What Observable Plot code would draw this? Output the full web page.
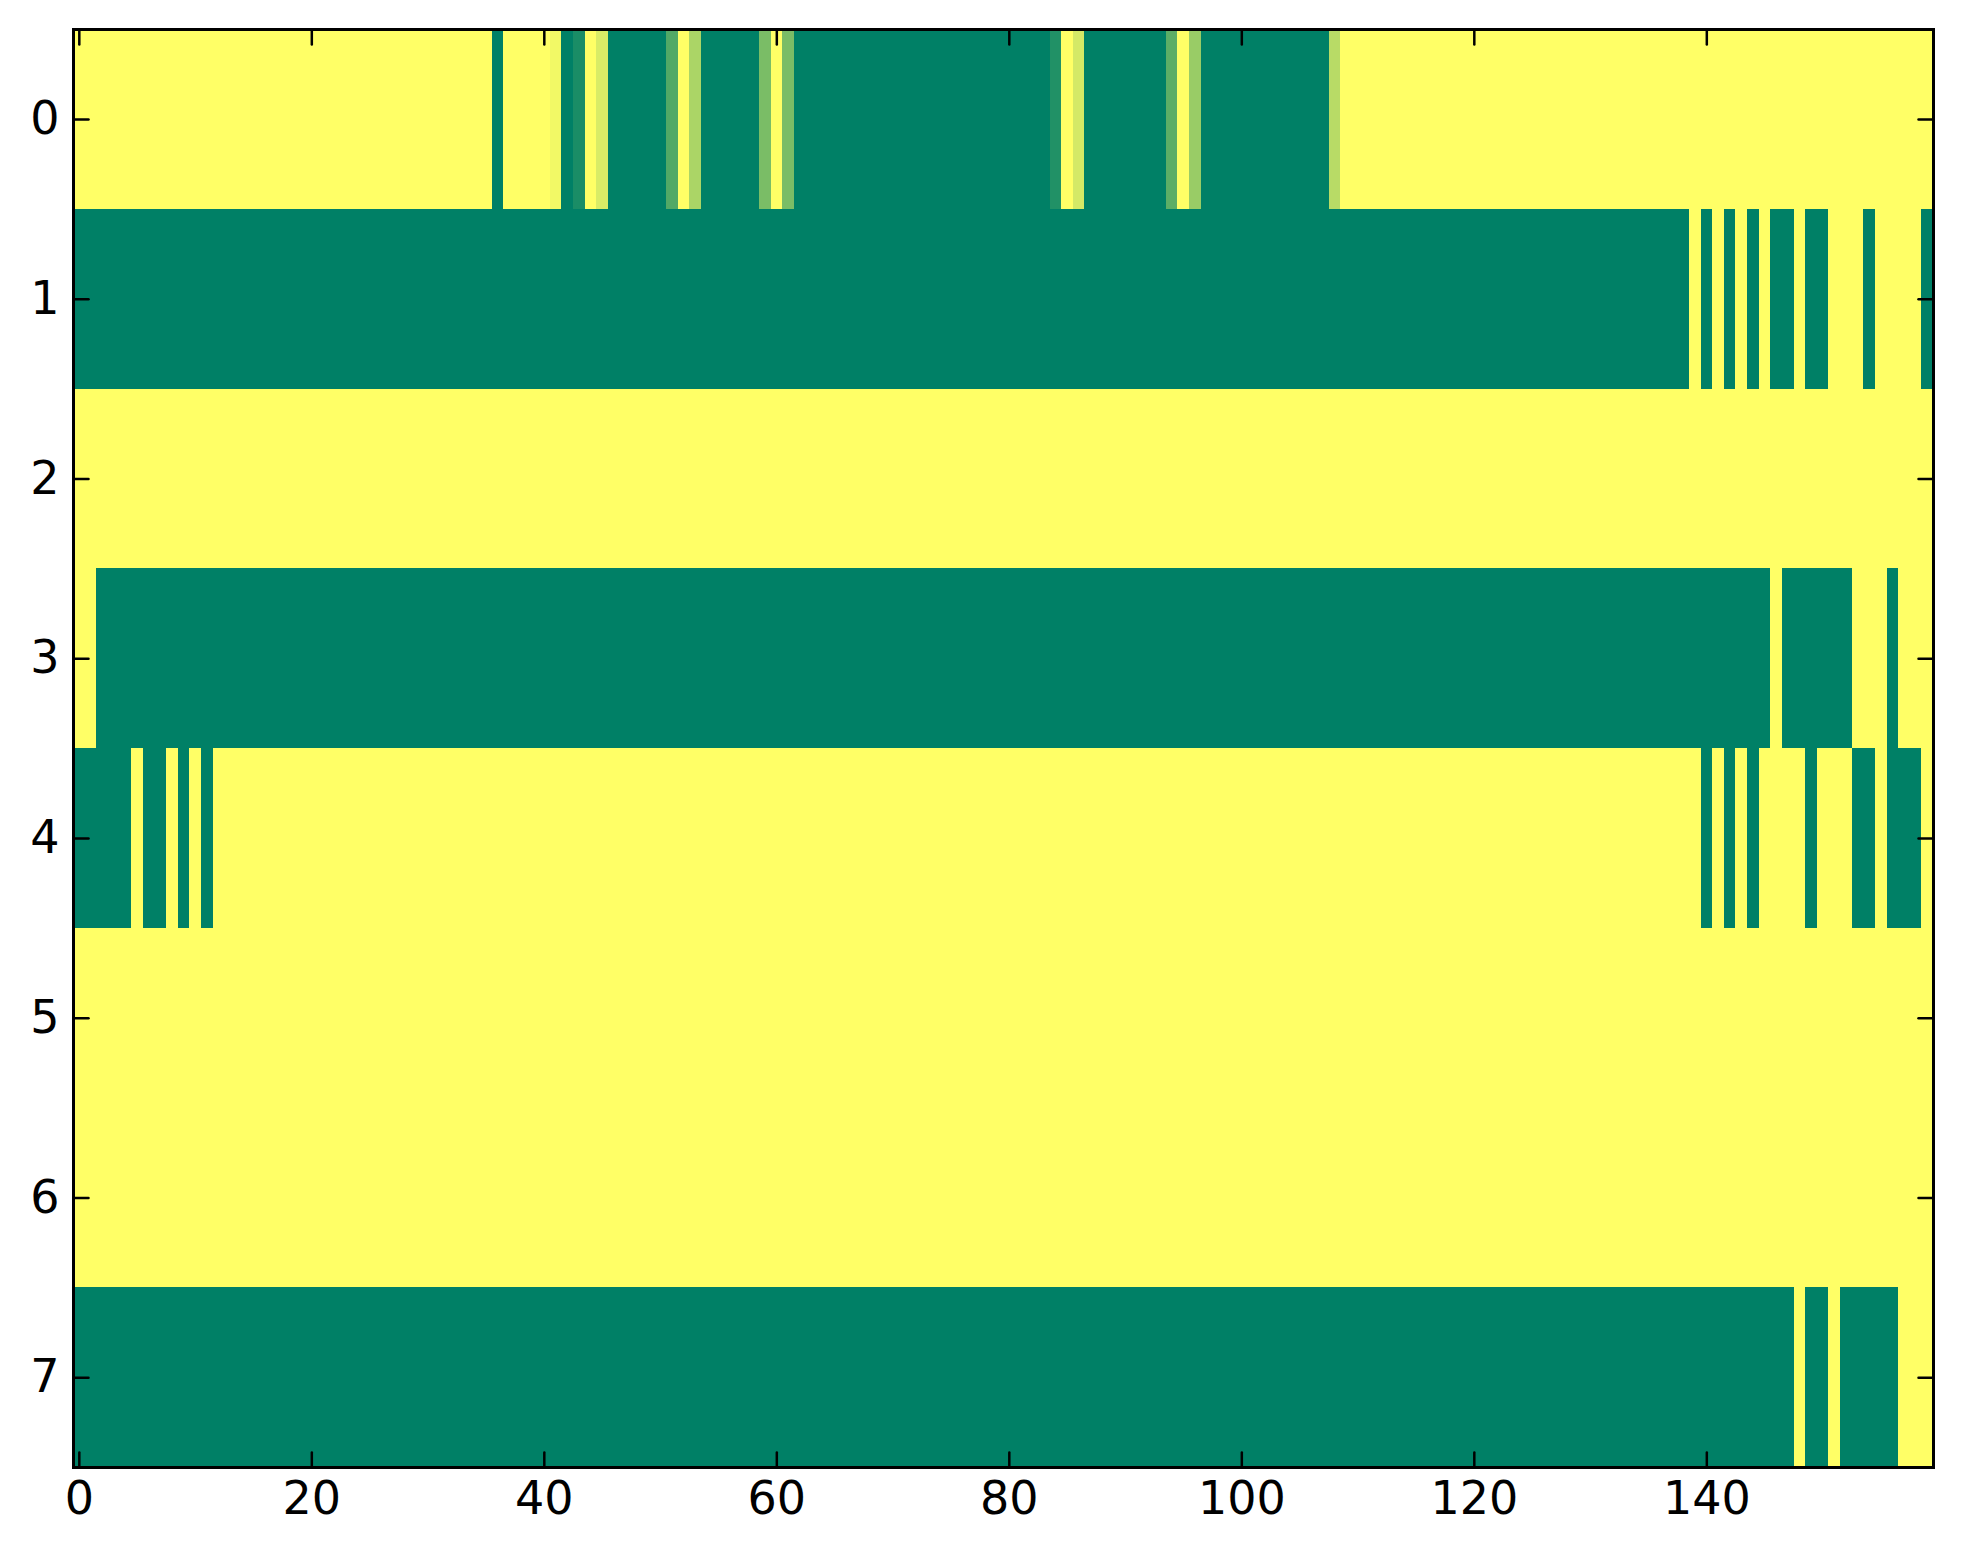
<!DOCTYPE html>
<html>
<head>
<meta charset="utf-8">
<script src="https://cdn.jsdelivr.net/npm/d3@7"></script>
<script src="https://cdn.jsdelivr.net/npm/@observablehq/plot@0.6"></script>
<style>
  html, body { margin: 0; padding: 0; background: #fff; }
  #chart svg { display: block; }
</style>
</head>
<body>
<div id="chart"></div>
<script>
// Run-length encoded rows: [value, number of consecutive columns]
const row0Runs = [[1,36],[0,1],[1,4],[0.95,1],[0,1],[0.1,1],[1,1],[0.85,1],[0,5],[0.32,1],[1,1],[0.67,1],[0,5],[0.48,1],[1,1],[0.48,1],[0,22],[0.13,1],[1,1],[0.83,1],[0,7],[0.36,1],[1,1],[0.6,1],[0,11],[0.72,1],[1,51]];
const row1Runs = [[0,139],[1,1],[0,1],[1,1],[0,1],[1,1],[0,1],[1,1],[0,2],[1,1],[0,2],[1,3],[0,1],[1,4],[0,1]];
const row2Runs = [[1,160]];
const row3Runs = [[1,2],[0,144],[1,1],[0,6],[1,3],[0,1],[1,3]];
const row4Runs = [[0,5],[1,1],[0,2],[1,1],[0,1],[1,1],[0,1],[1,128],[0,1],[1,1],[0,1],[1,1],[0,1],[1,4],[0,1],[1,3],[0,2],[1,1],[0,3],[1,1]];
const row5Runs = [[1,160]];
const row6Runs = [[1,160]];
const row7Runs = [[0,148],[1,1],[0,2],[1,1],[0,5],[1,3]];
const rowsRuns = [row0Runs,row1Runs,row2Runs,row3Runs,row4Runs,row5Runs,row6Runs,row7Runs];

const xTicks = [0,20,40,60,80,100,120,140];
const yTicks = [0,1,2,3,4,5,6,7];

// expand into cells
const cells = [];
rowsRuns.forEach((runs, r) => {
  let c = 0;
  for (const [v, n] of runs) {
    for (let k = 0; k < n; k++) { cells.push({row: r, col: c, value: v}); c++; }
  }
});

const W = 1963, H = 1564;
const tickShape = {draw(ctx, l) { ctx.moveTo(0, 0); ctx.lineTo(0, -l); }};
const tickStyle = {length: 15, anchor: "start", shape: tickShape, stroke: "black", strokeWidth: 2.5};
const font = {fontSize: 46, fontFamily: "DejaVu Sans"};

const chart = Plot.plot({
  width: W,
  height: H,
  marginLeft: 73,
  marginRight: 30,
  marginTop: 29,
  marginBottom: 97,
  style: {fontFamily: "DejaVu Sans", color: "black", background: "white"},
  x: {type: "linear", domain: [-0.5, 159.5]},
  y: {type: "linear", domain: [7.5, -0.5]},
  color: {type: "linear", domain: [0, 1], range: ["#008066", "#ffff66"], interpolate: d3.interpolateRgb},
  marks: [
    Plot.rect(cells, {
      x1: d => d.col - 0.5, x2: d => d.col + 0.5,
      y1: d => d.row - 0.5, y2: d => d.row + 0.5,
      fill: "value", shapeRendering: "crispEdges"
    }),
    Plot.vector(xTicks, {x: d => d, frameAnchor: "bottom", rotate: 0, ...tickStyle}),
    Plot.vector(xTicks, {x: d => d, frameAnchor: "top", rotate: 180, ...tickStyle}),
    Plot.vector(yTicks, {y: d => d, frameAnchor: "left", rotate: 90, ...tickStyle}),
    Plot.vector(yTicks, {y: d => d, frameAnchor: "right", rotate: -90, ...tickStyle}),
    Plot.axisX({ticks: xTicks, tickFormat: d => String(d), tickSize: 0, tickPadding: 14, label: null, ...font}),
    Plot.axisY({ticks: yTicks, tickFormat: d => String(d), tickSize: 0, tickPadding: 14, label: null, ...font}),
    Plot.frame({stroke: "black", strokeWidth: 3})
  ]
});
document.getElementById("chart").appendChild(chart);
</script>
</body>
</html>
